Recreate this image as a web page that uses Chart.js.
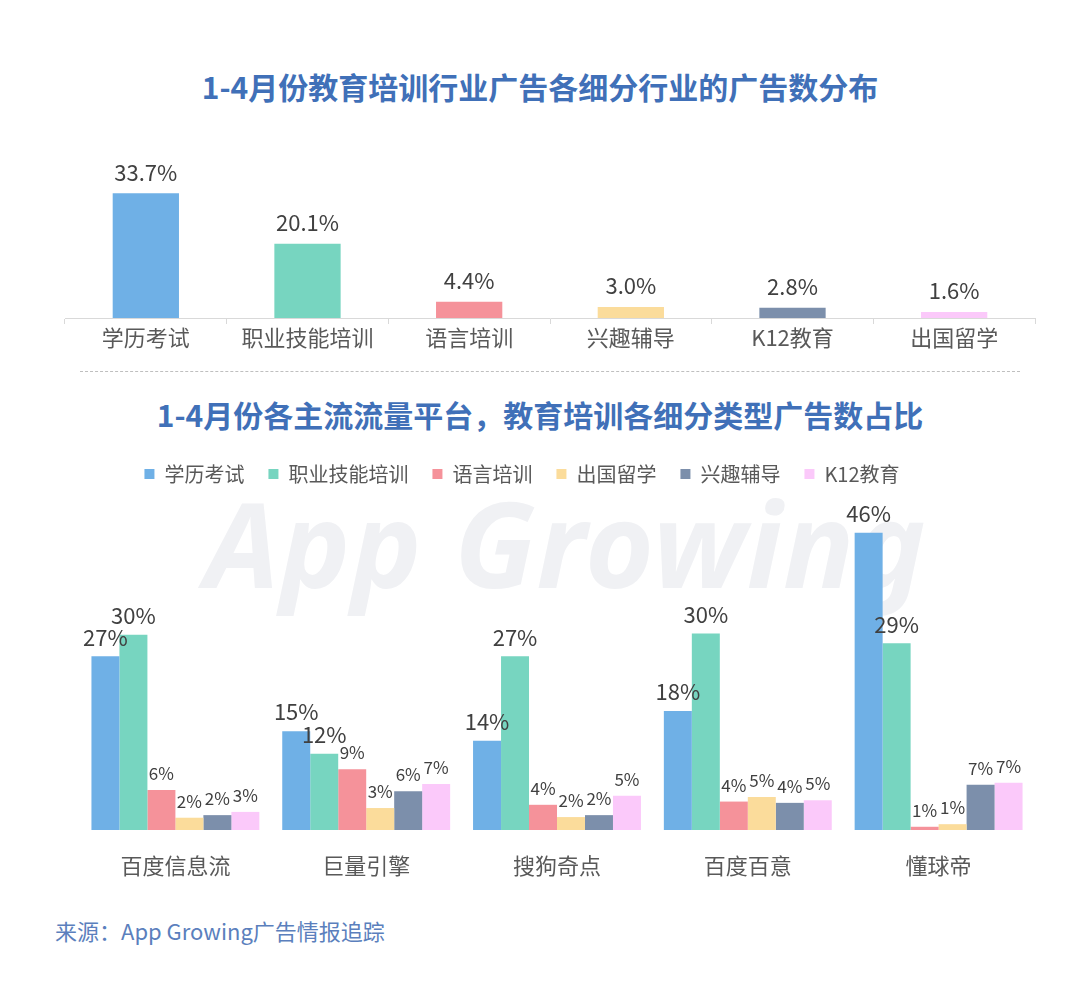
<!DOCTYPE html>
<html>
<head>
<meta charset="utf-8">
<script src="https://cdn.jsdelivr.net/npm/chart.js"></script>
<style>
  body { margin: 0; background: #fff; font-family: "Noto Sans CJK SC", sans-serif; }
  #page { position: relative; width: 1080px; height: 987px; overflow: hidden; }
  .title { position: absolute; left: 0; width: 1080px; text-align: center; font-weight: bold; font-size: 30px; color: #4070b8; }
  #wm { position: absolute; left: 205px; top: 462px; font: italic bold 118px "Noto Sans", sans-serif; color: #f0f1f4; letter-spacing: 1px; }
  #sep { position: absolute; left: 80px; width: 940px; top: 371px; border-top: 1px dashed #bfbfbf; }
  #src { position: absolute; left: 55px; top: 914px; font-size: 22px; color: #5b7fbd; }
  canvas { position: absolute; }
</style>
</head>
<body>
<div id="page">
  <div class="title" style="top:64px">1-4月份教育培训行业广告各细分行业的广告数分布</div>
  <div id="sep"></div>
  <div class="title" style="top:392px">1-4月份各主流流量平台，教育培训各细分类型广告数占比</div>
  <div id="wm">App Growing</div>
  <div style="position:absolute;left:0;top:140px;width:1080px;height:220px"><canvas id="top"></canvas></div>
  <div style="position:absolute;left:0;top:440px;width:1080px;height:460px"><canvas id="bottom"></canvas></div>
  <div id="src">来源：App Growing广告情报追踪</div>
</div>

<script>
  // top chart
  const industries = ['学历考试', '职业技能培训', '语言培训', '兴趣辅导', 'K12教育', '出国留学'];
  const industryShare = [33.7, 20.1, 4.4, 3.0, 2.8, 1.6];
  const industryColors = ['#6fb0e6', '#77d5c0', '#f5929a', '#fbdc9b', '#7c8fab', '#fbc9fa'];

  // bottom chart
  const platforms = ['百度信息流', '巨量引擎', '搜狗奇点', '百度百意', '懂球帝'];
  const seriesNames = ['学历考试', '职业技能培训', '语言培训', '出国留学', '兴趣辅导', 'K12教育'];
  const xueli   = [26.9, 15.3, 13.8, 18.4, 46.0];
  const zhiye   = [30.2, 11.8, 26.9, 30.4, 28.9];
  const yuyan   = [6.2, 9.4, 3.9, 4.4, 0.5];
  const chuguo  = [1.9, 3.4, 2.0, 5.1, 0.9];
  const xingqu  = [2.3, 6.0, 2.3, 4.2, 7.0];
  const k12     = [2.8, 7.1, 5.3, 4.6, 7.3];
  const seriesColors = ['#6fb0e6', '#77d5c0', '#f5929a', '#fbdc9b', '#7c8fab', '#fbc9fa'];

  const FONT = '"Noto Sans CJK SC", sans-serif';

  // draws value labels above bars using the bar elements
  const valueLabels = {
    id: 'valueLabels',
    afterDatasetsDraw(chart, args, opts) {
      const c = chart.ctx;
      c.save();
      c.textAlign = 'center';
      c.textBaseline = 'bottom';
      c.fillStyle = '#404040';
      chart.data.datasets.forEach((ds, di) => {
        chart.getDatasetMeta(di).data.forEach((bar, i) => {
          const v = ds.data[i];
          c.font = opts.size(v) + 'px ' + FONT;
          c.fillText(opts.format(v), bar.x, bar.y - opts.gap);
        });
      });
      c.restore();
    }
  };

  // legend in the reference sits a bit left of the plot centre
  const legendShift = {
    id: 'legendShift',
    afterLayout(chart) { chart.legend.left -= 70; }
  };

  new Chart(document.getElementById('top'), {
    type: 'bar',
    data: {
      labels: industries,
      datasets: [{
        data: industryShare,
        backgroundColor: industryColors,
        borderWidth: 0,
        barPercentage: 0.82,
        categoryPercentage: 0.5
      }]
    },
    options: {
      responsive: true,
      maintainAspectRatio: false,
      animation: false,
      layout: { padding: { left: 65, right: 45, top: 30, bottom: 0 } },
      plugins: {
        legend: { display: false },
        tooltip: { enabled: false },
        valueLabels: { size: () => 22, gap: 10, format: v => v.toFixed(1) + '%' }
      },
      scales: {
        y: { display: false, min: 0, max: 40 },
        x: {
          afterFit(scale) { scale.height = 42; },
          border: { color: '#d9d9d9' },
          grid: { offset: true, drawOnChartArea: false, drawTicks: true, tickLength: 6, color: '#d9d9d9' },
          ticks: { color: '#595959', padding: 0, font: { family: FONT, size: 22 } }
        }
      }
    },
    plugins: [valueLabels]
  });

  const seriesData = [xueli, zhiye, yuyan, chuguo, xingqu, k12];

  new Chart(document.getElementById('bottom'), {
    type: 'bar',
    data: {
      labels: platforms,
      datasets: seriesNames.map((name, i) => ({
        label: name,
        data: seriesData[i],
        backgroundColor: seriesColors[i],
        borderWidth: 0,
        barPercentage: 1.0,
        categoryPercentage: 0.88
      }))
    },
    options: {
      responsive: true,
      maintainAspectRatio: false,
      animation: false,
      layout: { padding: { left: 80, right: 46, top: 0, bottom: 0 } },
      plugins: {
        legend: {
          position: 'top',
          labels: {
            boxWidth: 10, boxHeight: 10, padding: 24,
            color: '#595959',
            font: { family: FONT, size: 20 }
          }
        },
        tooltip: { enabled: false },
        valueLabels: { size: v => (v >= 10 ? 22 : 17), gap: 8, format: v => Math.round(v) + '%' }
      },
      scales: {
        y: { display: false, min: 0, max: 52 },
        x: {
          afterFit(scale) { scale.height = 70; },
          border: { display: false },
          grid: { display: false },
          ticks: { color: '#595959', padding: 14, font: { family: FONT, size: 22 } }
        }
      }
    },
    plugins: [valueLabels, legendShift]
  });
</script>
</body>
</html>
